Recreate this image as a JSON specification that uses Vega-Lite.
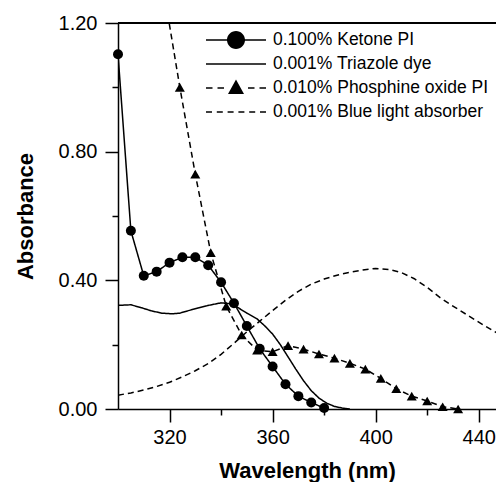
{
  "$schema": "https://vega.github.io/schema/vega-lite/v6.json",
  "width": 378,
  "height": 386,
  "autosize": {"type": "none"},
  "padding": {"left": 118, "top": 23, "right": 0, "bottom": 73},
  "background": "white",
  "config": {
    "view": {"stroke": null},
    "font": "Liberation Sans",
    "axis": {
      "grid": false,
      "domainColor": "black",
      "tickColor": "black",
      "domainWidth": 1.5,
      "tickWidth": 1.5,
      "labelColor": "black",
      "titleColor": "black",
      "labelFontSize": 20,
      "titleFontSize": 22,
      "titleFontWeight": "bold",
      "labelFont": "Liberation Sans",
      "titleFont": "Liberation Sans"
    }
  },
  "data": {
    "values": [
      {"series": "0.100% Ketone PI", "wavelength": 300, "absorbance": 1.103, "marker": true},
      {"series": "0.100% Ketone PI", "wavelength": 305, "absorbance": 0.554, "marker": true},
      {"series": "0.100% Ketone PI", "wavelength": 310, "absorbance": 0.414, "marker": true},
      {"series": "0.100% Ketone PI", "wavelength": 315, "absorbance": 0.427, "marker": true},
      {"series": "0.100% Ketone PI", "wavelength": 320, "absorbance": 0.455, "marker": true},
      {"series": "0.100% Ketone PI", "wavelength": 325, "absorbance": 0.472, "marker": true},
      {"series": "0.100% Ketone PI", "wavelength": 330, "absorbance": 0.472, "marker": true},
      {"series": "0.100% Ketone PI", "wavelength": 335, "absorbance": 0.447, "marker": true},
      {"series": "0.100% Ketone PI", "wavelength": 340, "absorbance": 0.394, "marker": true},
      {"series": "0.100% Ketone PI", "wavelength": 345, "absorbance": 0.329, "marker": true},
      {"series": "0.100% Ketone PI", "wavelength": 350, "absorbance": 0.258, "marker": true},
      {"series": "0.100% Ketone PI", "wavelength": 355, "absorbance": 0.187, "marker": true},
      {"series": "0.100% Ketone PI", "wavelength": 360, "absorbance": 0.132, "marker": true},
      {"series": "0.100% Ketone PI", "wavelength": 365, "absorbance": 0.077, "marker": true},
      {"series": "0.100% Ketone PI", "wavelength": 370, "absorbance": 0.040, "marker": true},
      {"series": "0.100% Ketone PI", "wavelength": 375, "absorbance": 0.020, "marker": true},
      {"series": "0.100% Ketone PI", "wavelength": 380, "absorbance": 0.003, "marker": true},

      {"series": "0.001% Triazole dye", "wavelength": 300, "absorbance": 0.322, "marker": false},
      {"series": "0.001% Triazole dye", "wavelength": 305, "absorbance": 0.324, "marker": false},
      {"series": "0.001% Triazole dye", "wavelength": 309, "absorbance": 0.315, "marker": false},
      {"series": "0.001% Triazole dye", "wavelength": 313, "absorbance": 0.305, "marker": false},
      {"series": "0.001% Triazole dye", "wavelength": 317, "absorbance": 0.298, "marker": false},
      {"series": "0.001% Triazole dye", "wavelength": 321, "absorbance": 0.296, "marker": false},
      {"series": "0.001% Triazole dye", "wavelength": 324, "absorbance": 0.298, "marker": false},
      {"series": "0.001% Triazole dye", "wavelength": 327, "absorbance": 0.305, "marker": false},
      {"series": "0.001% Triazole dye", "wavelength": 331, "absorbance": 0.314, "marker": false},
      {"series": "0.001% Triazole dye", "wavelength": 335, "absorbance": 0.322, "marker": false},
      {"series": "0.001% Triazole dye", "wavelength": 340, "absorbance": 0.330, "marker": false},
      {"series": "0.001% Triazole dye", "wavelength": 343, "absorbance": 0.328, "marker": false},
      {"series": "0.001% Triazole dye", "wavelength": 346, "absorbance": 0.318, "marker": false},
      {"series": "0.001% Triazole dye", "wavelength": 350, "absorbance": 0.298, "marker": false},
      {"series": "0.001% Triazole dye", "wavelength": 354, "absorbance": 0.280, "marker": false},
      {"series": "0.001% Triazole dye", "wavelength": 357, "absorbance": 0.258, "marker": false},
      {"series": "0.001% Triazole dye", "wavelength": 360, "absorbance": 0.233, "marker": false},
      {"series": "0.001% Triazole dye", "wavelength": 363, "absorbance": 0.200, "marker": false},
      {"series": "0.001% Triazole dye", "wavelength": 366, "absorbance": 0.162, "marker": false},
      {"series": "0.001% Triazole dye", "wavelength": 369, "absorbance": 0.124, "marker": false},
      {"series": "0.001% Triazole dye", "wavelength": 372, "absorbance": 0.088, "marker": false},
      {"series": "0.001% Triazole dye", "wavelength": 375, "absorbance": 0.057, "marker": false},
      {"series": "0.001% Triazole dye", "wavelength": 378, "absorbance": 0.034, "marker": false},
      {"series": "0.001% Triazole dye", "wavelength": 381, "absorbance": 0.018, "marker": false},
      {"series": "0.001% Triazole dye", "wavelength": 384, "absorbance": 0.008, "marker": false},
      {"series": "0.001% Triazole dye", "wavelength": 387, "absorbance": 0.003, "marker": false},
      {"series": "0.001% Triazole dye", "wavelength": 390, "absorbance": 0.0, "marker": false},

      {"series": "0.010% Phosphine oxide PI", "wavelength": 318, "absorbance": 1.29, "marker": false},
      {"series": "0.010% Phosphine oxide PI", "wavelength": 324, "absorbance": 1.0, "marker": true},
      {"series": "0.010% Phosphine oxide PI", "wavelength": 330, "absorbance": 0.73, "marker": true},
      {"series": "0.010% Phosphine oxide PI", "wavelength": 336, "absorbance": 0.486, "marker": true},
      {"series": "0.010% Phosphine oxide PI", "wavelength": 342, "absorbance": 0.32, "marker": true},
      {"series": "0.010% Phosphine oxide PI", "wavelength": 348, "absorbance": 0.23, "marker": true},
      {"series": "0.010% Phosphine oxide PI", "wavelength": 354, "absorbance": 0.183, "marker": true},
      {"series": "0.010% Phosphine oxide PI", "wavelength": 360, "absorbance": 0.178, "marker": true},
      {"series": "0.010% Phosphine oxide PI", "wavelength": 366, "absorbance": 0.197, "marker": true},
      {"series": "0.010% Phosphine oxide PI", "wavelength": 372, "absorbance": 0.186, "marker": true},
      {"series": "0.010% Phosphine oxide PI", "wavelength": 378, "absorbance": 0.171, "marker": true},
      {"series": "0.010% Phosphine oxide PI", "wavelength": 384, "absorbance": 0.158, "marker": true},
      {"series": "0.010% Phosphine oxide PI", "wavelength": 390, "absorbance": 0.142, "marker": true},
      {"series": "0.010% Phosphine oxide PI", "wavelength": 396, "absorbance": 0.124, "marker": true},
      {"series": "0.010% Phosphine oxide PI", "wavelength": 402, "absorbance": 0.095, "marker": true},
      {"series": "0.010% Phosphine oxide PI", "wavelength": 408, "absorbance": 0.063, "marker": true},
      {"series": "0.010% Phosphine oxide PI", "wavelength": 414, "absorbance": 0.040, "marker": true},
      {"series": "0.010% Phosphine oxide PI", "wavelength": 420, "absorbance": 0.025, "marker": true},
      {"series": "0.010% Phosphine oxide PI", "wavelength": 426, "absorbance": 0.007, "marker": true},
      {"series": "0.010% Phosphine oxide PI", "wavelength": 432, "absorbance": 0.0, "marker": true},

      {"series": "0.001% Blue light absorber", "wavelength": 300, "absorbance": 0.043, "marker": false},
      {"series": "0.001% Blue light absorber", "wavelength": 305, "absorbance": 0.050, "marker": false},
      {"series": "0.001% Blue light absorber", "wavelength": 310, "absorbance": 0.059, "marker": false},
      {"series": "0.001% Blue light absorber", "wavelength": 315, "absorbance": 0.070, "marker": false},
      {"series": "0.001% Blue light absorber", "wavelength": 320, "absorbance": 0.083, "marker": false},
      {"series": "0.001% Blue light absorber", "wavelength": 325, "absorbance": 0.100, "marker": false},
      {"series": "0.001% Blue light absorber", "wavelength": 330, "absorbance": 0.119, "marker": false},
      {"series": "0.001% Blue light absorber", "wavelength": 335, "absorbance": 0.141, "marker": false},
      {"series": "0.001% Blue light absorber", "wavelength": 340, "absorbance": 0.170, "marker": false},
      {"series": "0.001% Blue light absorber", "wavelength": 345, "absorbance": 0.204, "marker": false},
      {"series": "0.001% Blue light absorber", "wavelength": 350, "absorbance": 0.240, "marker": false},
      {"series": "0.001% Blue light absorber", "wavelength": 355, "absorbance": 0.273, "marker": false},
      {"series": "0.001% Blue light absorber", "wavelength": 360, "absorbance": 0.306, "marker": false},
      {"series": "0.001% Blue light absorber", "wavelength": 365, "absorbance": 0.338, "marker": false},
      {"series": "0.001% Blue light absorber", "wavelength": 370, "absorbance": 0.366, "marker": false},
      {"series": "0.001% Blue light absorber", "wavelength": 375, "absorbance": 0.388, "marker": false},
      {"series": "0.001% Blue light absorber", "wavelength": 380, "absorbance": 0.404, "marker": false},
      {"series": "0.001% Blue light absorber", "wavelength": 385, "absorbance": 0.416, "marker": false},
      {"series": "0.001% Blue light absorber", "wavelength": 390, "absorbance": 0.425, "marker": false},
      {"series": "0.001% Blue light absorber", "wavelength": 395, "absorbance": 0.432, "marker": false},
      {"series": "0.001% Blue light absorber", "wavelength": 400, "absorbance": 0.437, "marker": false},
      {"series": "0.001% Blue light absorber", "wavelength": 405, "absorbance": 0.434, "marker": false},
      {"series": "0.001% Blue light absorber", "wavelength": 410, "absorbance": 0.424, "marker": false},
      {"series": "0.001% Blue light absorber", "wavelength": 415, "absorbance": 0.405, "marker": false},
      {"series": "0.001% Blue light absorber", "wavelength": 420, "absorbance": 0.378, "marker": false},
      {"series": "0.001% Blue light absorber", "wavelength": 425, "absorbance": 0.346, "marker": false},
      {"series": "0.001% Blue light absorber", "wavelength": 430, "absorbance": 0.320, "marker": false},
      {"series": "0.001% Blue light absorber", "wavelength": 435, "absorbance": 0.295, "marker": false},
      {"series": "0.001% Blue light absorber", "wavelength": 440, "absorbance": 0.270, "marker": false},
      {"series": "0.001% Blue light absorber", "wavelength": 445, "absorbance": 0.246, "marker": false},
      {"series": "0.001% Blue light absorber", "wavelength": 448, "absorbance": 0.232, "marker": false}
    ]
  },
  "layer": [
    {
      "mark": {"type": "line", "color": "black", "strokeWidth": 1.5, "clip": true},
      "encoding": {
        "x": {
          "field": "wavelength", "type": "quantitative",
          "scale": {"domain": [300, 446.7], "nice": false, "zero": false},
          "axis": {
            "title": "Wavelength (nm)",
            "values": [320, 340, 360, 380, 400, 420, 440],
            "format": "d",
            "labelExpr": "datum.value % 40 === 0 ? datum.label : ''",
            "tickSize": {"condition": {"test": "datum.value % 40 === 0", "value": 13}, "value": 6},
            "labelPadding": 5,
            "titlePadding": 13
          }
        },
        "y": {
          "field": "absorbance", "type": "quantitative",
          "scale": {"domain": [0, 1.2], "nice": false},
          "axis": {
            "title": "Absorbance",
            "values": [0, 0.2, 0.4, 0.6, 0.8, 1.0, 1.2],
            "format": ".2f",
            "labelExpr": "round(datum.value * 10) % 4 === 0 ? datum.label : ''",
            "tickSize": {"condition": {"test": "round(datum.value * 10) % 4 === 0", "value": 13}, "value": 6},
            "labelPadding": 8,
            "titlePadding": 21
          }
        },
        "strokeDash": {
          "field": "series", "type": "nominal",
          "scale": {
            "domain": ["0.100% Ketone PI", "0.001% Triazole dye", "0.010% Phosphine oxide PI", "0.001% Blue light absorber"],
            "range": [[1, 0], [1, 0], [6, 4], [6, 4]]
          },
          "legend": null
        }
      }
    },
    {
      "transform": [{"filter": "datum.marker"}],
      "mark": {"type": "point", "filled": true, "color": "black", "opacity": 1, "size": 100, "clip": false},
      "encoding": {
        "x": {"field": "wavelength", "type": "quantitative"},
        "y": {"field": "absorbance", "type": "quantitative"},
        "shape": {
          "field": "series", "type": "nominal",
          "scale": {"domain": ["0.100% Ketone PI", "0.010% Phosphine oxide PI"], "range": ["circle", "triangle-up"]},
          "legend": null
        }
      }
    },
    {
      "transform": [{"filter": "false"}],
      "mark": {"type": "point", "filled": true, "color": "black", "opacity": 1},
      "encoding": {
        "x": {"field": "wavelength", "type": "quantitative"},
        "y": {"field": "absorbance", "type": "quantitative"},
        "shape": {
          "field": "series", "type": "nominal",
          "scale": {
            "domain": ["0.100% Ketone PI", "0.001% Triazole dye", "0.010% Phosphine oxide PI", "0.001% Blue light absorber"],
            "range": [
              "M-1,-0.075H1.2V0.075H-1ZM2.8,-0.075H5V0.075H2.8ZM2.9,0A0.9,0.9,0,1,1,1.1,0A0.9,0.9,0,1,1,2.9,0Z",
              "M-1,-0.075H5V0.075H-1Z",
              "M-1,-0.075H-0.35V0.075H-1ZM0.15,-0.075H0.8V0.075H0.15ZM3.2,-0.075H3.85V0.075H3.2ZM4.35,-0.075H5V0.075H4.35ZM2,-0.85L2.8,0.6L1.2,0.6Z",
              "M-1,-0.075H-0.4V0.075H-1ZM0.08,-0.075H0.68V0.075H0.08ZM1.16,-0.075H1.76V0.075H1.16ZM2.24,-0.075H2.84V0.075H2.24ZM3.32,-0.075H3.92V0.075H3.32ZM4.4,-0.075H5V0.075H4.4Z"
            ]
          },
          "legend": {
            "title": null,
            "orient": "none",
            "legendX": 87,
            "legendY": 6,
            "symbolSize": 400,
            "symbolFillColor": "black",
            "symbolOpacity": 1,
            "labelFont": "Liberation Sans",
            "labelFontSize": 17.5,
            "labelColor": "black",
            "labelOffset": 46,
            "labelLimit": 400,
            "rowPadding": -1,
            "gridAlign": "all"
          }
        }
      }
    },
    {
      "mark": {"type": "rule", "color": "black", "strokeWidth": 1.5},
      "encoding": {"y": {"datum": 1.2, "type": "quantitative"}}
    }
  ],
  "resolve": {"scale": {"shape": "independent", "strokeDash": "independent"}, "legend": {"shape": "independent"}}
}
